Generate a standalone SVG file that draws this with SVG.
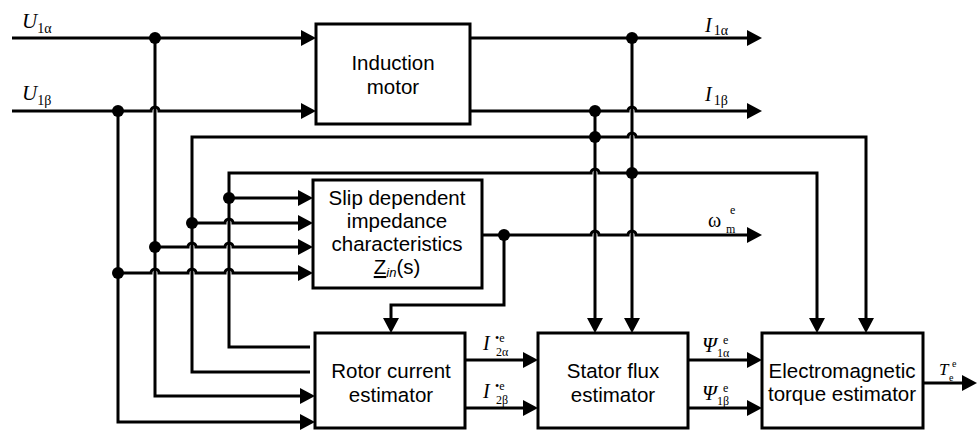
<svg xmlns="http://www.w3.org/2000/svg" width="977" height="433" viewBox="0 0 977 433">
<style>
.box{fill:#fff;stroke:#000;stroke-width:3}
.bt{font-family:"Liberation Sans",Arial,sans-serif;font-size:20.5px;text-anchor:middle;fill:#000}
.ln{fill:none;stroke:#000;stroke-width:3}
.m{font-family:"Liberation Serif","Times New Roman",serif;fill:#000}
.it{font-style:italic}
</style>
<defs>
<marker id="ah" markerUnits="userSpaceOnUse" markerWidth="16" markerHeight="16" refX="10" refY="8" orient="auto">
<path d="M0,0 L15,8 L0,16 z" fill="#000"/>
</marker>
</defs>
<rect width="977" height="433" fill="#fff"/>
<g id="connectors">
<path class="ln" marker-end="url(#ah)" d="M12,38 H311"/>
<path class="ln" marker-end="url(#ah)" d="M12,111 H151 a4,4 0 0 1 8,0 H311"/>
<path class="ln" marker-end="url(#ah)" d="M470,38 H757"/>
<path class="ln" marker-end="url(#ah)" d="M470,111 H628 a4,4 0 0 1 8,0 H757"/>
<path class="ln" marker-end="url(#ah)" d="M155,38 V396 H310"/>
<path class="ln" marker-end="url(#ah)" d="M118,111 V422 H310"/>
<path class="ln" marker-end="url(#ah)" d="M155,247 H188 a4,4 0 0 1 8,0 H225 a4,4 0 0 1 8,0 H308"/>
<path class="ln" marker-end="url(#ah)" d="M118,273 H151 a4,4 0 0 1 8,0 H188 a4,4 0 0 1 8,0 H225 a4,4 0 0 1 8,0 H308"/>
<path class="ln" marker-end="url(#ah)" d="M632,38 V328"/>
<path class="ln" marker-end="url(#ah)" d="M310,347 H229 V173 H591 a4,4 0 0 1 8,0 H817 V328"/>
<path class="ln" marker-end="url(#ah)" d="M229,198 H308"/>
<path class="ln" marker-end="url(#ah)" d="M595,111 V328"/>
<path class="ln" marker-end="url(#ah)" d="M310,372 H192 V137 H628 a4,4 0 0 1 8,0 H866 V328"/>
<path class="ln" marker-end="url(#ah)" d="M192,223 H225 a4,4 0 0 1 8,0 H308"/>
<path class="ln" marker-end="url(#ah)" d="M482,235 H591 a4,4 0 0 1 8,0 H628 a4,4 0 0 1 8,0 H757"/>
<path class="ln" marker-end="url(#ah)" d="M504,235 V305 H391 V328"/>
<path class="ln" marker-end="url(#ah)" d="M465,360 H533"/>
<path class="ln" marker-end="url(#ah)" d="M465,408 H533"/>
<path class="ln" marker-end="url(#ah)" d="M688,360 H757"/>
<path class="ln" marker-end="url(#ah)" d="M688,408 H757"/>
<path class="ln" marker-end="url(#ah)" d="M923,383 H972"/>
<g fill="#000">
<circle cx="155" cy="38" r="6"/>
<circle cx="118" cy="111" r="6"/>
<circle cx="632" cy="38" r="6"/>
<circle cx="595" cy="111" r="6"/>
<circle cx="595" cy="137" r="6"/>
<circle cx="632" cy="173" r="6"/>
<circle cx="229" cy="198" r="6"/>
<circle cx="192" cy="223" r="6"/>
<circle cx="155" cy="247" r="6"/>
<circle cx="118" cy="273" r="6"/>
<circle cx="504" cy="235" r="6"/>
</g>
</g>
<g id="labels">
<text class="m" x="22" y="28"><tspan class="it" font-size="21">U</tspan><tspan font-size="14" dy="5">1α</tspan></text>
<text class="m" x="22" y="100"><tspan class="it" font-size="21">U</tspan><tspan font-size="14" dy="5">1β</tspan></text>
<text class="m" x="705" y="32"><tspan class="it" font-size="20">I</tspan><tspan font-size="14" dx="2" dy="3">1α</tspan></text>
<text class="m" x="705" y="101"><tspan class="it" font-size="20">I</tspan><tspan font-size="14" dx="2" dy="4">1β</tspan></text>
<text class="m" x="708" y="227" font-size="20">ω</text>
<text class="m" x="730" y="214" font-size="12">e</text>
<text class="m" x="726" y="233" font-size="12">m</text>
<text class="m it" x="483" y="350" font-size="20">I</text>
<text class="m" x="495" y="342" font-size="12">•e</text>
<text class="m" x="496" y="356" font-size="12">2α</text>
<text class="m it" x="483" y="398" font-size="20">I</text>
<text class="m" x="495" y="390" font-size="12">•e</text>
<text class="m" x="496" y="404" font-size="12">2β</text>
<text class="m it" x="702" y="352" font-size="21">Ψ</text>
<text class="m" x="723" y="344" font-size="12">e</text>
<text class="m" x="717" y="357" font-size="12">1α</text>
<text class="m it" x="702" y="400" font-size="21">Ψ</text>
<text class="m" x="723" y="392" font-size="12">e</text>
<text class="m" x="717" y="405" font-size="12">1β</text>
<text class="m it" x="939" y="375" font-size="17">T</text>
<text class="m" x="952" y="367" font-size="10">e</text>
<text class="m" x="949" y="381" font-size="10">e</text>
</g>
<g id="induction-motor">
<rect class="box" x="316" y="24" width="154" height="100"/>
<text class="bt" x="393" y="70">Induction</text>
<text class="bt" x="393" y="94">motor</text>
</g>
<g id="slip-impedance">
<rect class="box" x="313" y="180" width="169" height="108"/>
<text class="bt" x="397" y="205">Slip dependent</text>
<text class="bt" x="397" y="228">impedance</text>
<text class="bt" x="397" y="251">characteristics</text>
<text class="bt" x="397" y="274"><tspan text-decoration="underline">Z</tspan><tspan font-style="italic" font-size="13" dy="3">in</tspan><tspan dy="-3">(s)</tspan></text>
</g>
<g id="rotor-current">
<rect class="box" x="315" y="333" width="150" height="95"/>
<text class="bt" x="391" y="378">Rotor current</text>
<text class="bt" x="391" y="402">estimator</text>
</g>
<g id="stator-flux">
<rect class="box" x="538" y="333" width="150" height="95"/>
<text class="bt" x="613" y="378">Stator flux</text>
<text class="bt" x="613" y="402">estimator</text>
</g>
<g id="em-torque">
<rect class="box" x="762" y="333" width="161" height="95"/>
<text class="bt" x="842" y="378">Electromagnetic</text>
<text class="bt" x="842" y="401">torque estimator</text>
</g>
</svg>
